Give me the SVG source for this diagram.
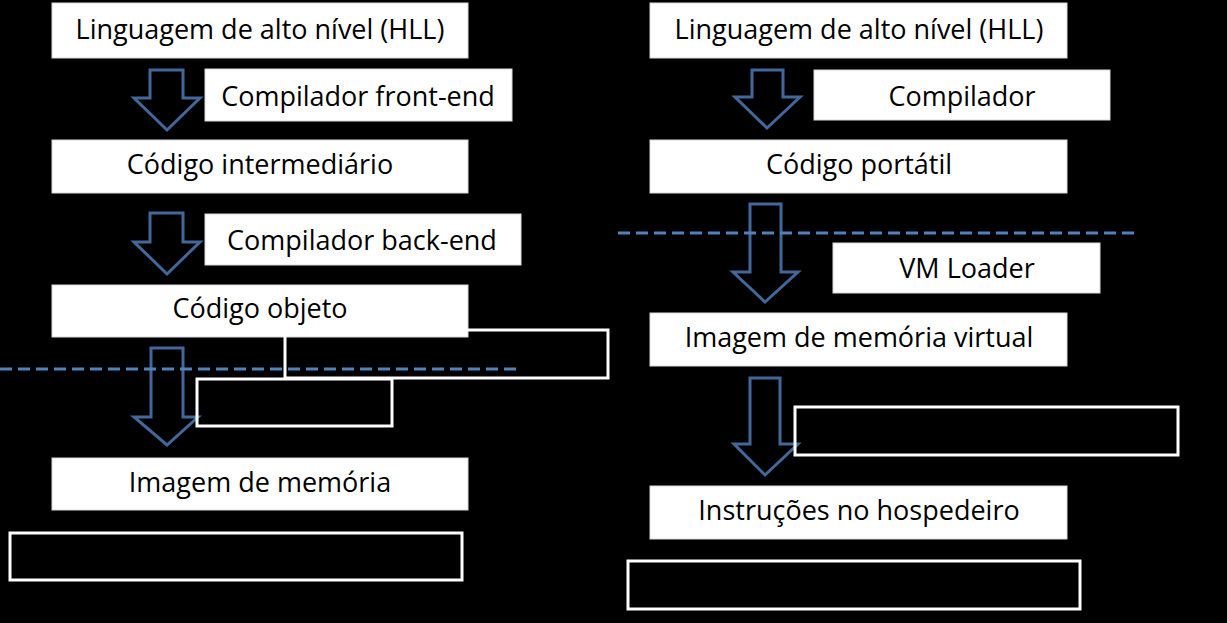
<svg xmlns="http://www.w3.org/2000/svg" width="1227" height="623" viewBox="0 0 1227 623">
<style>
.box{fill:#ffffff;stroke:#d9d9d9;stroke-width:1}
.obox{fill:none;stroke:#ffffff;stroke-width:3}
.t{font-family:"Open Sans","Liberation Sans",sans-serif;font-size:27px;fill:#000000;text-anchor:middle}
.arr{fill:none;stroke:#41689a;stroke-width:3;stroke-linejoin:miter}
.dash{stroke:#4f81bd;stroke-width:3;stroke-dasharray:12,6;fill:none}
</style>
<rect x="0" y="0" width="1227" height="623" fill="#000000"/>
<g id="connectors">
<path class="arr" d="M150,70 H183 V98 H200 L167,130 L134,98 H150 Z"/>
<path class="arr" d="M150,213 H183 V242 H200 L167,274 L134,242 H150 Z"/>
<path class="arr" d="M151,348 H183 V417 H198 L167,445 L134,417 H151 Z"/>
<path class="arr" d="M752,70 H783 V97 H800 L767,128 L735,97 H752 Z"/>
<path class="arr" d="M750,204 H781 V272 H798 L765,302 L733,272 H750 Z"/>
<path class="arr" d="M750,378 H780 V444 H798 L765,475 L734,444 H750 Z"/>
<line class="dash" x1="0" y1="369" x2="521" y2="369"/>
<line class="dash" x1="618" y1="233" x2="1139" y2="233"/>
</g>
<g id="n-hll-left"><rect class="box" x="52" y="3" width="416" height="55"/><text class="t" x="260" y="39">Linguagem de alto nível (HLL)</text></g>
<g id="n-front-end"><rect class="box" x="205" y="69" width="307" height="52"/><text class="t" x="358" y="106">Compilador front-end</text></g>
<g id="n-intermediario"><rect class="box" x="52" y="140" width="416" height="53"/><text class="t" x="260" y="174">Código intermediário</text></g>
<g id="n-back-end"><rect class="box" x="205" y="214" width="316" height="51"/><text class="t" x="362" y="250">Compilador back-end</text></g>
<g id="n-objeto"><rect class="box" x="52" y="285" width="416" height="52"/><text class="t" x="260" y="318">Código objeto</text></g>
<g id="n-hidden-a"><rect class="obox" x="285" y="330" width="323" height="48"/></g>
<g id="n-hidden-b"><rect class="obox" x="197" y="379" width="195" height="47"/></g>
<g id="n-imagem"><rect class="box" x="52" y="458" width="416" height="52"/><text class="t" x="260" y="492">Imagem de memória</text></g>
<g id="n-hidden-c"><rect class="obox" x="10" y="533" width="452" height="47"/></g>
<g id="n-hll-right"><rect class="box" x="650" y="3" width="417" height="55"/><text class="t" x="859" y="39">Linguagem de alto nível (HLL)</text></g>
<g id="n-compilador"><rect class="box" x="814" y="70" width="296" height="50"/><text class="t" x="962" y="106">Compilador</text></g>
<g id="n-portatil"><rect class="box" x="650" y="140" width="417" height="53"/><text class="t" x="859" y="174">Código portátil</text></g>
<g id="n-vm-loader"><rect class="box" x="833" y="243" width="267" height="50"/><text class="t" x="967" y="278">VM Loader</text></g>
<g id="n-virtual"><rect class="box" x="650" y="313" width="417" height="53"/><text class="t" x="859" y="347">Imagem de memória virtual</text></g>
<g id="n-hidden-d"><rect class="obox" x="795" y="407" width="383" height="48"/></g>
<g id="n-hospedeiro"><rect class="box" x="650" y="486" width="417" height="53"/><text class="t" x="859" y="520">Instruções no hospedeiro</text></g>
<g id="n-hidden-e"><rect class="obox" x="628" y="561" width="452" height="48"/></g>
</svg>
